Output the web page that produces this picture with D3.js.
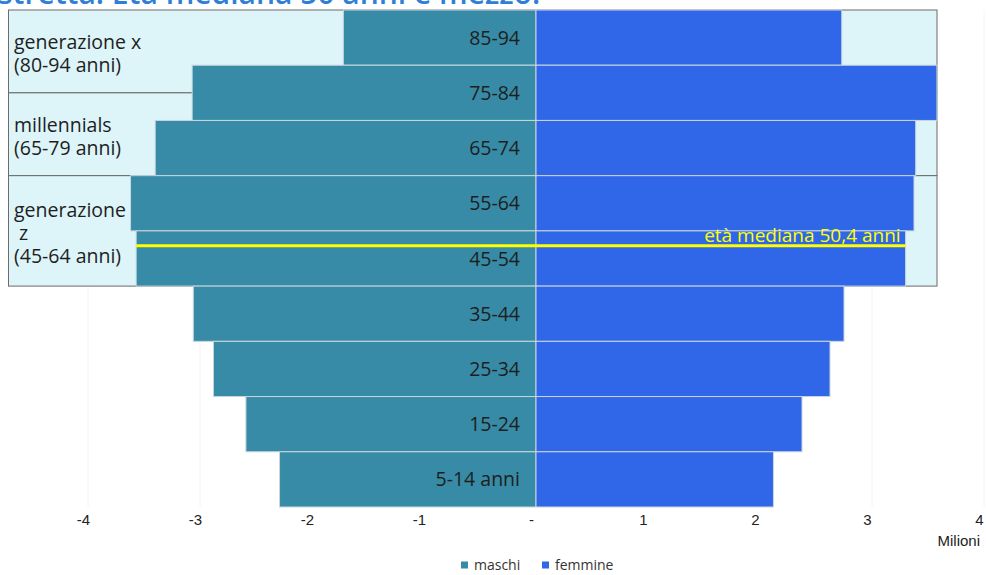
<!DOCTYPE html>
<html><head><meta charset="utf-8">
<script src="https://cdn.jsdelivr.net/npm/d3@7"></script>
<style>
body{margin:0;background:#fff;}
svg{display:block;}
</style></head>
<body>
<svg id="chart" width="986" height="575"></svg>
<script>
// ---- data ----
const ages = ["85-94","75-84","65-74","55-64","45-54","35-44","25-34","15-24","5-14 anni"];
const maschi = [-1.72,-3.07,-3.40,-3.62,-3.57,-3.06,-2.88,-2.59,-2.29];
const femmine = [2.73,3.58,3.39,3.375,3.30,2.75,2.625,2.375,2.12];
const xTicks = [-4,-3,-2,-1,0,1,2,3,4];
const xTickLabels = ["-4","-3","-2","-1","-","1","2","3","4"];
const genLabels = [["generazione x","(80-94 anni)"],["millennials","(65-79 anni)"],["generazione"," z","(45-64 anni)"]];
const genFrom = [95,80,65];
const genTo = [80,65,45];
const medianLabel = "età mediana 50,4 anni";
const seriesNames = ["maschi","femmine"];
const titleText = "stretta. Età mediana 50 anni e mezzo.";

// ---- layout ----
const plotTop = 10, plotBottom = 507;
const colM = "#378ba6", colF = "#3067e8";
const svg = d3.select("#chart");
const font = "'Open Sans', 'Liberation Sans', Arial, sans-serif";
const narrow = "'Liberation Sans Narrow', 'Liberation Sans', Arial, sans-serif";

const x = d3.scaleLinear().domain([-4,4]).range([88,984]);
const y = d3.scaleBand().domain(ages).range([plotTop,plotBottom]).padding(0);
const yAge = d3.scaleLinear().domain([95,5]).range([plotTop,plotBottom]);

// title (cut at top, as in the source)
svg.append("text").attr("x",-2).attr("y",4).text(titleText)
  .attr("font-family",font).attr("font-size",30).attr("font-weight",600).attr("fill","#2f7fd9");

// faint gridlines
svg.append("g").selectAll("line").data(xTicks).join("line")
  .attr("x1",d=>x(d)).attr("x2",d=>x(d)).attr("y1",plotTop).attr("y2",plotBottom)
  .attr("stroke","#f4f4f4").attr("stroke-width",1);

// generation panels
const panelL = 8.5, panelR = 937;
const gp = svg.append("g");
gp.selectAll("rect").data(genFrom).join("rect")
  .attr("x",panelL).attr("width",panelR-panelL)
  .attr("y",(d,i)=>yAge(genFrom[i])).attr("height",(d,i)=>yAge(genTo[i])-yAge(genFrom[i]))
  .attr("fill","#ddf4f9").attr("stroke","#6b6b6b").attr("stroke-width",1);

// bars
const bars = svg.append("g");
bars.selectAll("rect.m").data(ages).join("rect").attr("class","m")
  .attr("x",(d,i)=>x(maschi[i])).attr("width",(d,i)=>x(0)-x(maschi[i]))
  .attr("y",d=>y(d)).attr("height",y.bandwidth())
  .attr("fill",colM).attr("stroke","#c9d6de").attr("stroke-width",1);
bars.selectAll("rect.f").data(ages).join("rect").attr("class","f")
  .attr("x",x(0)).attr("width",(d,i)=>x(femmine[i])-x(0))
  .attr("y",d=>y(d)).attr("height",y.bandwidth())
  .attr("fill",colF).attr("stroke","#c9d6de").attr("stroke-width",1);

// age labels
svg.append("g").selectAll("text").data(ages).join("text")
  .attr("x",x(0)-16).attr("y",d=>y(d)+y.bandwidth()/2).attr("dy","0.36em")
  .attr("text-anchor","end").text(d=>d)
  .attr("font-family",font).attr("font-size",19.5).attr("fill","#1e1e1e");

// generation labels
const gl = svg.append("g");
genLabels.forEach((lines,i)=>{
  const y0 = yAge(genFrom[i]), y1 = yAge(genTo[i]);
  const cy = (y0+y1)/2 + 2;
  const lh = 23;
  const startY = cy - (lines.length-1)*lh/2;
  const t = gl.append("text").attr("font-family",font).attr("font-size",19.5).attr("fill","#1e1e1e");
  lines.forEach((s,j)=>{
    t.append("tspan").attr("x",14).attr("y",startY+j*lh).attr("dy","0.36em").style("white-space","pre").text(s);
  });
});

// median line
const mi = ages.indexOf("45-54");
const my = y("45-54") + y.bandwidth()*0.27;
svg.append("line").attr("x1",x(maschi[mi])).attr("x2",x(femmine[mi]))
  .attr("y1",my).attr("y2",my).attr("stroke","#ffff00").attr("stroke-width",3);
svg.append("text").attr("x",x(femmine[mi])-5).attr("y",my-4).attr("text-anchor","end")
  .text(medianLabel).attr("font-family",font).attr("font-size",19).attr("fill","#ffff00");

// x axis
const axis = d3.axisBottom(x).tickValues(xTicks).tickSize(0).tickFormat((d,i)=>xTickLabels[i]);
const ax = svg.append("g").attr("transform",`translate(0,${plotBottom})`).call(axis);
ax.select(".domain").remove();
ax.selectAll("text").attr("dx",-5).attr("dy","1.0em")
  .attr("font-family",narrow).attr("font-size",15).attr("fill","#222");
svg.append("text").attr("x",980).attr("y",546).attr("text-anchor","end").text("Milioni")
  .attr("font-family",narrow).attr("font-size",15).attr("fill","#222");

// legend
const lg = svg.append("g").attr("transform","translate(461,565)");
const legX = [0,81];
seriesNames.forEach((n,i)=>{
  const g = lg.append("g").attr("transform",`translate(${legX[i]},0)`);
  g.append("rect").attr("x",0).attr("y",-3.5).attr("width",7).attr("height",7).attr("fill",i?colF:colM);
  g.append("text").attr("x",13).attr("y",0).attr("dy","0.35em").text(n)
    .attr("font-family",font).attr("font-size",14).attr("fill","#333");
});
</script>
</body></html>
